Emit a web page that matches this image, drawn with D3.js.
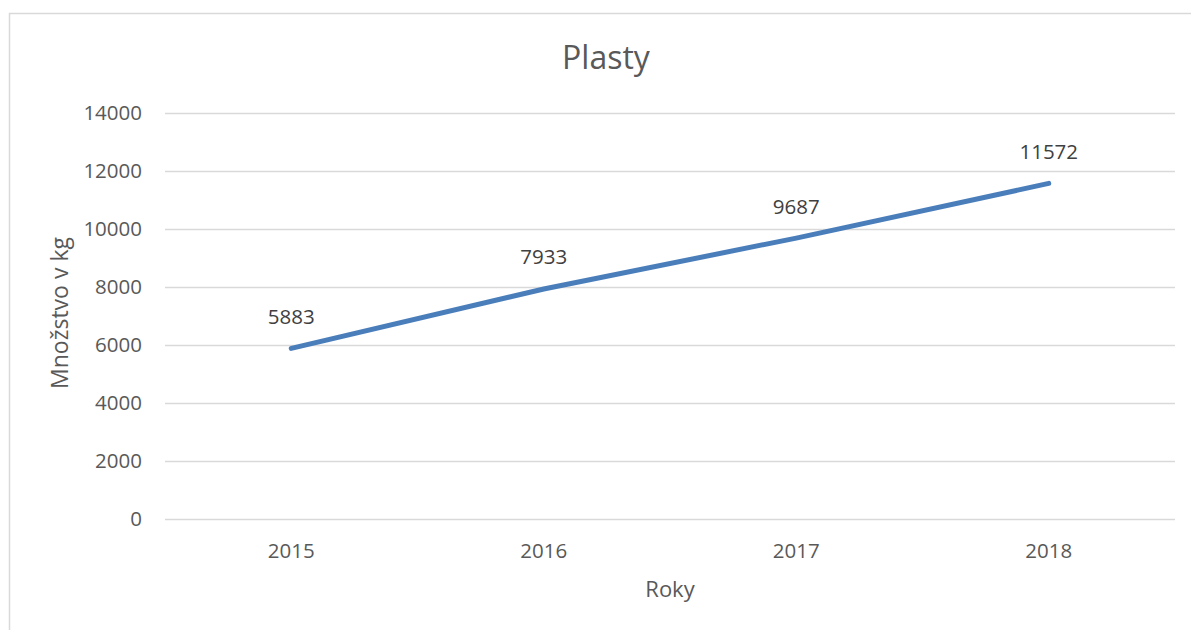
<!DOCTYPE html>
<html>
<head>
<meta charset="utf-8">
<script src="https://cdn.jsdelivr.net/npm/d3@7"></script>
<style>
body{margin:0;background:#fff;}
svg, svg text{font-family:"Open Sans",Lato,sans-serif;}
</style>
</head>
<body>
<div id="chart"></div>
<script>
var years=["2015","2016","2017","2018"];
var amounts=[5883,7933,9687,11572];
var yTicks=[0,2000,4000,6000,8000,10000,12000,14000];

var width=1191,height=630;
var margin={left:165,right:16,top:113,bottom:111};

var svg=d3.select("#chart").append("svg")
	.attr("width",width)
	.attr("height",height);

// chart border
svg.append("rect")
	.attr("x",9.5).attr("y",13.5)
	.attr("width",1200).attr("height",640)
	.attr("fill","none")
	.attr("stroke","#d9d9d9")
	.attr("stroke-width",1.5);

var xScale=d3.scaleBand()
	.domain(years)
	.range([margin.left,width-margin.right]);

var yScale=d3.scaleLinear()
	.domain([0,14000])
	.range([height-margin.bottom,margin.top]);

// gridlines
svg.append("g").selectAll("line")
	.data(yTicks)
	.enter()
	.append("line")
		.attr("x1",margin.left)
		.attr("x2",width-margin.right)
		.attr("y1",function(d){return Math.round(yScale(d))+0.5;})
		.attr("y2",function(d){return Math.round(yScale(d))+0.5;})
		.attr("stroke","#d9d9d9")
		.attr("stroke-width",1.3);

// y-axis
var yAxis=d3.axisLeft(yScale).tickValues(yTicks).tickFormat(d3.format("d")).tickSize(0).tickPadding(23);
var gy=svg.append("g")
	.attr("transform","translate("+margin.left+",0)")
	.call(yAxis)
	.attr("font-family",null);
gy.select(".domain").remove();
gy.selectAll("text").attr("fill","#595959").style("font-size","20.5px");

// x-axis
var xAxis=d3.axisBottom(xScale).tickSize(0).tickPadding(24);
var gx=svg.append("g")
	.attr("transform","translate(0,"+(height-margin.bottom)+")")
	.call(xAxis)
	.attr("font-family",null);
gx.select(".domain").remove();
gx.selectAll("text").attr("fill","#595959").style("font-size","20.5px");

// line
var line=d3.line()
	.x(function(d,i){return xScale(years[i])+xScale.bandwidth()/2;})
	.y(function(d){return yScale(d);});

svg.append("path")
	.datum(amounts)
	.attr("fill","none")
	.attr("stroke","#4a7ebb")
	.attr("stroke-width",5)
	.attr("stroke-linecap","round")
	.attr("d",line);

// data labels
svg.append("g").selectAll("text")
	.data(amounts)
	.enter()
	.append("text")
		.attr("x",function(d,i){return xScale(years[i])+xScale.bandwidth()/2;})
		.attr("y",function(d){return yScale(d)-24.5;})
		.attr("text-anchor","middle")
		.attr("fill","#404040")
		.style("font-size","20.5px")
		.text(function(d){return d;});

// title
svg.append("text")
	.attr("x",606).attr("y",69)
	.attr("text-anchor","middle")
	.attr("fill","#595959")
	.style("font-size","32px")
	.text("Plasty");

// axis titles
svg.append("text")
	.attr("transform","translate(68,313) rotate(-90)")
	.attr("text-anchor","middle")
	.attr("fill","#595959")
	.style("font-size","23px")
	.text("Množstvo v kg");

svg.append("text")
	.attr("x",670).attr("y",597)
	.attr("text-anchor","middle")
	.attr("fill","#595959")
	.style("font-size","22px")
	.text("Roky");
</script>
</body>
</html>
